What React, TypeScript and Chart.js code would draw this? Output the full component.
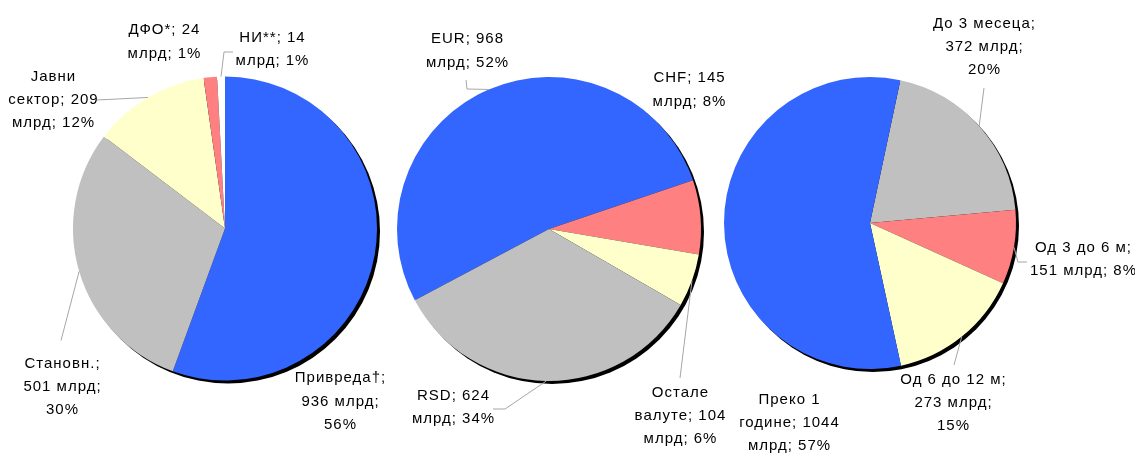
import React, { useEffect, useRef } from 'react';
import { Chart, registerables } from 'chart.js';
Chart.register(...registerables);

// ---- Pie 1: by sector ----
const sectorNames = ['Привреда†', 'Становн.', 'Јавни сектор', 'ДФО*', 'НИ**'];
const sectorValues = [936, 501, 209, 24, 14];
const sectorPercents = [56, 30, 12, 1, 1];
const sectorColors = ['#3366FF', '#C0C0C0', '#FFFFCC', '#FF8080', '#FFFFFF'];

// ---- Pie 2: by currency ----
const currencyNames = ['EUR', 'CHF', 'Остале валуте', 'RSD'];
const currencyValues = [968, 145, 104, 624];
const currencyPercents = [52, 8, 6, 34];
const currencyColors = ['#3366FF', '#FF8080', '#FFFFCC', '#C0C0C0'];

// ---- Pie 3: by maturity ----
const maturityNames = ['До 3 месеца', 'Од 3 до 6 м', 'Од 6 до 12 м', 'Преко 1 године'];
const maturityValues = [372, 151, 273, 1044];
const maturityPercents = [20, 8, 15, 57];
const maturityColors = ['#C0C0C0', '#FF8080', '#FFFFCC', '#3366FF'];

const unit = 'млрд';

type LabelLayout = { dx: number; dy: number; lines: number[]; leader?: [number, number][] };

const sectorLayout: LabelLayout[] = [
  { dx: 115, dy: 173, lines: [1, 2, 1] },
  { dx: -163, dy: 158.5, lines: [1, 2, 1], leader: [[-164, 112]] },
  { dx: -172, dy: -128.5, lines: [1, 2, 2], leader: [[-128, -128.5]] },
  { dx: -61, dy: -186.5, lines: [2, 2] },
  { dx: 47, dy: -179.3, lines: [2, 2], leader: [[-1, -176.5], [8, -176.5]] },
];
const currencyLayout: LabelLayout[] = [
  { dx: -82, dy: -178, lines: [2, 2], leader: [[-82, -140], [-83, -149]] },
  { dx: 140, dy: -139, lines: [2, 2] },
  { dx: 131, dy: 187, lines: [1, 2, 2], leader: [[131, 149]] },
  { dx: -96, dy: 178.5, lines: [2, 2], leader: [[-44, 180], [-56, 180]] },
];
const maturityLayout: LabelLayout[] = [
  { dx: 114, dy: -176, lines: [3, 2, 1], leader: [[114, -135]] },
  { dx: 213, dy: 36.5, lines: [5, 3], leader: [[148, 39], [157, 39]] },
  { dx: 83, dy: 180, lines: [5, 2, 1], leader: [[84, 142]] },
  { dx: -81, dy: 200, lines: [2, 2, 2] },
];

const FONT = '15px "Liberation Sans", Arial, sans-serif';
const LINE_H = 23.3;
const SHADOW = 3;

function buildLines(name: string, value: number, pct: number, counts: number[]): string[] {
  const tokens = `${name}; ${value} ${unit}; ${pct}%`.split(' ');
  const out: string[] = [];
  let i = 0;
  for (const c of counts) {
    out.push(tokens.slice(i, i + c).join(' '));
    i += c;
  }
  if (i < tokens.length) out[out.length - 1] += ' ' + tokens.slice(i).join(' ');
  return out;
}

type PieProps = {
  names: string[];
  values: number[];
  percents: number[];
  colors: string[];
  rotation: number;
  padding: { left: number; right: number; top: number; bottom: number };
  layouts: LabelLayout[];
};

function PieChart({ names, values, percents, colors, rotation, padding, layouts }: PieProps) {
  const ref = useRef<HTMLCanvasElement>(null);
  useEffect(() => {
    const decor = {
      id: 'pieDecor',
      beforeDatasetsDraw(chart: any) {
        const el = chart.getDatasetMeta(0).data[0];
        if (!el) return;
        const { x, y, outerRadius } = el.getProps(['x', 'y', 'outerRadius'], true);
        const ctx = chart.ctx;
        ctx.save();
        ctx.fillStyle = '#000';
        ctx.beginPath();
        ctx.arc(x + SHADOW, y + SHADOW, outerRadius, 0, Math.PI * 2);
        ctx.fill();
        ctx.restore();
      },
      afterDatasetsDraw(chart: any) {
        const meta = chart.getDatasetMeta(0);
        const ctx = chart.ctx as CanvasRenderingContext2D;
        ctx.save();
        meta.data.forEach((el: any, i: number) => {
          const { x, y, startAngle, endAngle, outerRadius } = el.getProps(
            ['x', 'y', 'startAngle', 'endAngle', 'outerRadius'],
            true
          );
          const lay = layouts[i];
          if (!lay) return;
          if (lay.leader) {
            const mid = (startAngle + endAngle) / 2;
            ctx.strokeStyle = '#A6A6A6';
            ctx.lineWidth = 1;
            ctx.beginPath();
            ctx.moveTo(x + Math.cos(mid) * outerRadius, y + Math.sin(mid) * outerRadius);
            lay.leader.forEach(([px, py]) => ctx.lineTo(x + px, y + py));
            ctx.stroke();
          }
          const lines = buildLines(names[i], values[i], percents[i], lay.lines);
          ctx.font = FONT;
          (ctx as any).letterSpacing = '1px';
          ctx.fillStyle = '#000';
          ctx.textAlign = 'center';
          ctx.textBaseline = 'middle';
          const cx = x + lay.dx;
          const cy = y + lay.dy;
          const y0 = cy - ((lines.length - 1) * LINE_H) / 2;
          lines.forEach((t, k) => ctx.fillText(t, cx + 0.5, y0 + k * LINE_H));
        });
        ctx.restore();
      },
    };
    const chart = new Chart(ref.current as HTMLCanvasElement, {
      type: 'pie',
      data: {
        labels: names,
        datasets: [
          {
            data: values,
            backgroundColor: colors,
            borderWidth: 0,
            hoverOffset: 0,
          },
        ],
      },
      options: {
        animation: false,
        responsive: false,
        maintainAspectRatio: false,
        rotation,
        events: [],
        layout: { padding },
        plugins: { legend: { display: false }, tooltip: { enabled: false } },
      },
      plugins: [decor],
    } as any);
    return () => chart.destroy();
  }, []);
  return (
    <canvas
      ref={ref}
      width={1135}
      height={453}
      style={{ position: 'absolute', left: 0, top: 0, width: 1135, height: 453 }}
    />
  );
}

export default function App() {
  return (
    <div style={{ position: 'absolute', left: 0, top: 0, width: 1135, height: 453, background: '#fff' }}>
      <PieChart
        names={sectorNames}
        values={sectorValues}
        percents={sectorPercents}
        colors={sectorColors}
        rotation={0}
        padding={{ left: 73, right: 758, top: 76.5, bottom: 72.5 }}
        layouts={sectorLayout}
      />
      <PieChart
        names={currencyNames}
        values={currencyValues}
        percents={currencyPercents}
        colors={currencyColors}
        rotation={-118}
        padding={{ left: 397, right: 434, top: 77, bottom: 72 }}
        layouts={currencyLayout}
      />
      <PieChart
        names={maturityNames}
        values={maturityValues}
        percents={maturityPercents}
        colors={maturityColors}
        rotation={12}
        padding={{ left: 724, right: 119, top: 77, bottom: 84 }}
        layouts={maturityLayout}
      />
    </div>
  );
}
